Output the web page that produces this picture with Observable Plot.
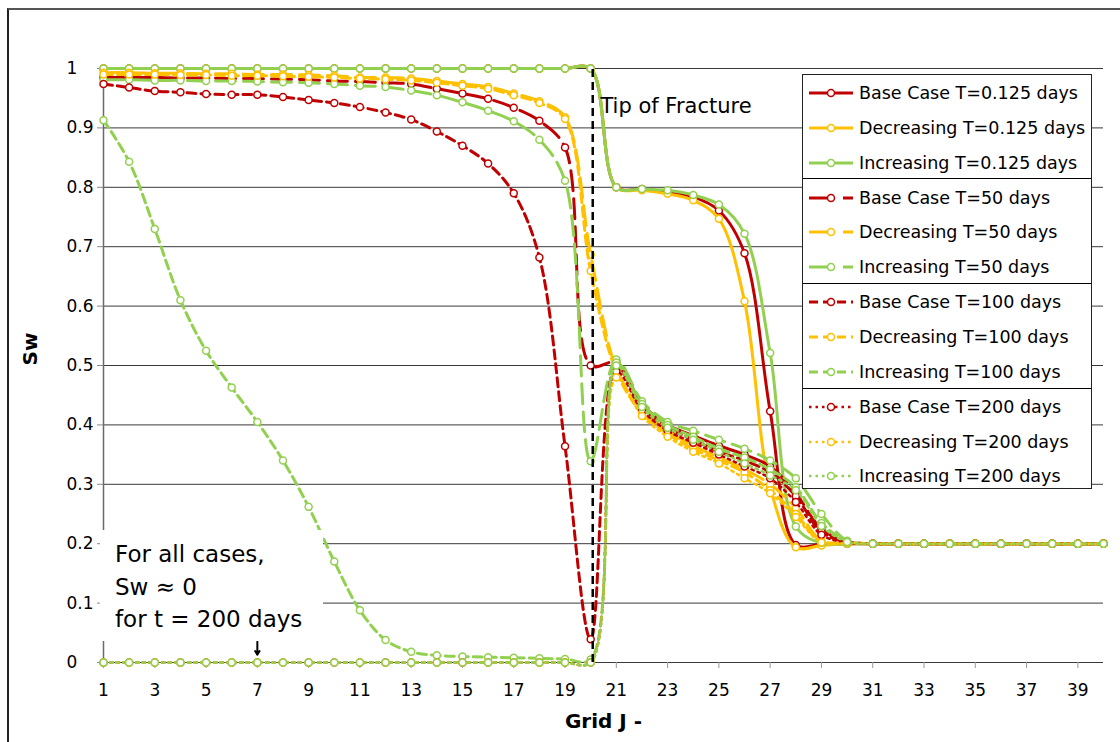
<!DOCTYPE html>
<html><head><meta charset="utf-8">
<script src="https://cdn.jsdelivr.net/npm/d3@7"></script>
<script src="https://cdn.jsdelivr.net/npm/@observablehq/plot@0.6"></script>
<style>
html,body{margin:0;padding:0;background:#fff;overflow:hidden;}
#wrap{position:relative;width:1120px;height:742px;font-family:"DejaVu Sans",Verdana,sans-serif;overflow:hidden;background:#fff;}
#frame{position:absolute;left:7px;top:8px;width:1200px;height:800px;border-left:2px solid #222;border-top:2px solid #555;pointer-events:none;}
#legend{position:absolute;left:802px;top:74px;width:290px;height:415px;background:#fff;border:1px solid #222;box-sizing:border-box;}
#legend .row{position:absolute;left:0;height:34px;display:flex;align-items:center;font-size:17.5px;color:#000;white-space:nowrap;}
#legend .sep{position:absolute;left:0;width:288px;height:0;border-top:1.6px solid #000;}
#note{position:absolute;left:100px;top:530px;width:223px;height:111px;background:#fff;font-size:23px;line-height:32.5px;color:#000;}
#note div{padding-left:15px;}
</style></head>
<body>
<div id="wrap">
  <div id="chart"></div>
  <div id="note"><div style="padding-top:8px">For all cases,</div><div>Sw ≈ 0</div><div>for t = 200 days</div></div>
  <div id="legend"></div>
  <div id="frame"></div>
</div>
<script>
// ---- data ----
const grid = [1,2,3,4,5,6,7,8,9,10,11,12,13,14,15,16,17,18,19,20,21,22,23,24,25,26,27,28,29,30,31,32,33,34,35,36,37,38,39,40];
const xTicks = [1,3,5,7,9,11,13,15,17,19,21,23,25,27,29,31,33,35,37,39];
const yTicks = [0,0.1,0.2,0.3,0.4,0.5,0.6,0.7,0.8,0.9,1];
const yTickLabels = ["0","0.1","0.2","0.3","0.4","0.5","0.6","0.7","0.8","0.9","1"];
const seriesNames = [
  "Base Case T=0.125 days","Decreasing T=0.125 days","Increasing T=0.125 days",
  "Base Case T=50 days","Decreasing T=50 days","Increasing T=50 days",
  "Base Case T=100 days","Decreasing T=100 days","Increasing T=100 days",
  "Base Case T=200 days","Decreasing T=200 days","Increasing T=200 days"
];
const baseT0125 = [1,1,1,1,1,1,1,1,1,1,1,1,1,1,1,1,1,1,1,1,0.80,0.797,0.792,0.784,0.761,0.689,0.423,0.198,0.199,0.2,0.2,0.2,0.2,0.2,0.2,0.2,0.2,0.2,0.2,0.2];
const decT0125  = [1,1,1,1,1,1,1,1,1,1,1,1,1,1,1,1,1,1,1,1,0.80,0.795,0.789,0.778,0.747,0.608,0.295,0.194,0.197,0.2,0.2,0.2,0.2,0.2,0.2,0.2,0.2,0.2,0.2,0.2];
const incT0125  = [1,1,1,1,1,1,1,1,1,1,1,1,1,1,1,1,1,1,1,1,0.80,0.797,0.795,0.787,0.771,0.722,0.521,0.229,0.201,0.2,0.2,0.2,0.2,0.2,0.2,0.2,0.2,0.2,0.2,0.2];
const baseT50 = [0.985,0.985,0.985,0.984,0.984,0.983,0.983,0.982,0.981,0.979,0.978,0.976,0.974,0.966,0.958,0.949,0.934,0.912,0.867,0.50,0.505,0.435,0.40,0.382,0.365,0.35,0.33,0.285,0.225,0.203,0.2,0.2,0.2,0.2,0.2,0.2,0.2,0.2,0.2,0.2];
const decT50  = [0.993,0.993,0.992,0.992,0.991,0.991,0.990,0.990,0.989,0.988,0.985,0.985,0.983,0.979,0.974,0.969,0.958,0.945,0.918,0.687,0.495,0.425,0.39,0.365,0.345,0.325,0.30,0.26,0.205,0.202,0.2,0.2,0.2,0.2,0.2,0.2,0.2,0.2,0.2,0.2];
const incT50  = [0.981,0.981,0.980,0.980,0.979,0.979,0.978,0.977,0.976,0.974,0.971,0.969,0.963,0.955,0.943,0.929,0.911,0.880,0.811,0.339,0.51,0.44,0.405,0.39,0.375,0.36,0.34,0.31,0.25,0.205,0.2,0.2,0.2,0.2,0.2,0.2,0.2,0.2,0.2,0.2];
const baseT100 = [0.974,0.968,0.962,0.960,0.957,0.956,0.956,0.952,0.947,0.942,0.935,0.926,0.914,0.894,0.870,0.840,0.790,0.682,0.364,0.039,0.50,0.43,0.395,0.375,0.355,0.34,0.32,0.28,0.22,0.203,0.2,0.2,0.2,0.2,0.2,0.2,0.2,0.2,0.2,0.2];
const decT100  = [0.990,0.990,0.990,0.989,0.989,0.988,0.988,0.987,0.986,0.985,0.983,0.982,0.980,0.976,0.971,0.966,0.955,0.942,0.915,0.659,0.49,0.42,0.385,0.36,0.34,0.32,0.29,0.25,0.203,0.201,0.2,0.2,0.2,0.2,0.2,0.2,0.2,0.2,0.2,0.2];
const incT100  = [0.913,0.843,0.730,0.610,0.525,0.463,0.405,0.340,0.262,0.170,0.088,0.038,0.018,0.012,0.010,0.009,0.008,0.007,0.006,0.005,0.505,0.435,0.40,0.38,0.36,0.345,0.325,0.295,0.235,0.204,0.2,0.2,0.2,0.2,0.2,0.2,0.2,0.2,0.2,0.2];
const baseT200 = [0,0,0,0,0,0,0,0,0,0,0,0,0,0,0,0,0,0,0,0,0.49,0.425,0.39,0.37,0.35,0.33,0.31,0.27,0.215,0.202,0.2,0.2,0.2,0.2,0.2,0.2,0.2,0.2,0.2,0.2];
const decT200  = [0,0,0,0,0,0,0,0,0,0,0,0,0,0,0,0,0,0,0,0,0.48,0.415,0.38,0.355,0.335,0.31,0.285,0.245,0.202,0.201,0.2,0.2,0.2,0.2,0.2,0.2,0.2,0.2,0.2,0.2];
const incT200  = [0,0,0,0,0,0,0,0,0,0,0,0,0,0,0,0,0,0,0,0,0.50,0.43,0.395,0.375,0.355,0.335,0.315,0.29,0.23,0.203,0.2,0.2,0.2,0.2,0.2,0.2,0.2,0.2,0.2,0.2];
const tipJ = [20.08];

// ---- styles ----
const RED = "#C00000", ORANGE = "#FFC000", GREEN = "#92D050";
const colors = [RED, ORANGE, GREEN];
const styles = [
  {dash: null, width: 3, legendDash: null},
  {dash: "20,8", width: 3, legendDash: "24,10"},
  {dash: "9,5", width: 3, legendDash: "9,5"},
  {dash: "2.5,4", width: 2.5, legendDash: "2.5,4"}
];
const allValues = [baseT0125, decT0125, incT0125, baseT50, decT50, incT50, baseT100, decT100, incT100, baseT200, decT200, incT200];
const series = allValues.map((vals, i) => ({
  name: seriesNames[i],
  color: colors[i % 3],
  dash: styles[Math.floor(i / 3)].dash,
  legendDash: styles[Math.floor(i / 3)].legendDash,
  width: styles[Math.floor(i / 3)].width,
  data: grid.map((j, k) => ({j, v: vals[k]}))
}));

const marks = [
  Plot.ruleY(yTicks, {stroke: "#3a3a3a", strokeWidth: 1}),
  Plot.ruleX([1], {y1: 0, y2: 1, stroke: "#6a6a6a", strokeWidth: 1.5}),
  Plot.axisY(yTicks, {tickSize: 6, tickFormat: () => "", stroke: "#888", label: null}),
  Plot.text(yTicks, {y: d => d, text: (d, i) => yTickLabels[i], frameAnchor: "left", dx: -37, textAnchor: "start", fontSize: 17, fill: "#000"}),
  Plot.axisX(xTicks, {tickSize: 6, tickPadding: 15, fontSize: 17, stroke: "#999", fill: "#000", label: null}),
  Plot.text(["Grid J -"], {frameAnchor: "bottom", dy: 65, fontWeight: "bold", fontSize: 20, fill: "#000"}),
  Plot.text(["Sw"], {frameAnchor: "left", dx: -73, rotate: -90, fontWeight: "bold", fontSize: 20, fill: "#000"})
];
for (const s of series) {
  marks.push(Plot.line(s.data, {x: "j", y: "v", stroke: s.color, strokeWidth: s.width, strokeDasharray: s.dash, curve: "catmull-rom"}));
  marks.push(Plot.dot(s.data, {x: "j", y: "v", r: 3.5, fill: "white", stroke: s.color, strokeWidth: 1.5}));
}
marks.push(Plot.ruleX(tipJ, {y1: 0, y2: 1, stroke: "#000", strokeWidth: 2.5, strokeDasharray: "8,5"}));
marks.push(Plot.text(["Tip of Fracture"], {x: 20.38, y: 0.937, textAnchor: "start", fontSize: 21, fill: "#000"}));
marks.push(Plot.arrow([{x: 7, y1: 0.035, y2: 0.013}], {x1: "x", x2: "x", y1: "y1", y2: "y2", stroke: "#000", strokeWidth: 2, headLength: 10}));

const chart = Plot.plot({
  width: 1120, height: 742,
  marginLeft: 103, marginRight: 17, marginTop: 68, marginBottom: 80,
  x: {domain: [1, 40], axis: null},
  y: {domain: [0, 1], axis: null},
  style: {fontFamily: "DejaVu Sans, Verdana, sans-serif", fontSize: "17px", background: "white", color: "black", overflow: "visible"},
  marks
});
document.getElementById("chart").appendChild(chart);

// ---- legend ----
const legend = document.getElementById("legend");
series.forEach((s, i) => {
  const cy = 18 + i * 34.85;
  const row = document.createElement("div");
  row.className = "row";
  row.style.top = (cy - 17) + "px";
  const dashAttr = s.legendDash ? `stroke-dasharray="${s.legendDash}"` : "";
  row.innerHTML = `<svg width="56" height="20" style="display:block"><line x1="6" x2="50" y1="10" y2="10" stroke="${s.color}" stroke-width="${s.width}" ${dashAttr}/><circle cx="28" cy="10" r="3.5" fill="white" stroke="${s.color}" stroke-width="1.5"/></svg><span>${s.name}</span>`;
  legend.appendChild(row);
});
[103, 208, 313].forEach(y => {
  const d = document.createElement("div");
  d.className = "sep";
  d.style.top = y + "px";
  legend.appendChild(d);
});
</script>
</body></html>
